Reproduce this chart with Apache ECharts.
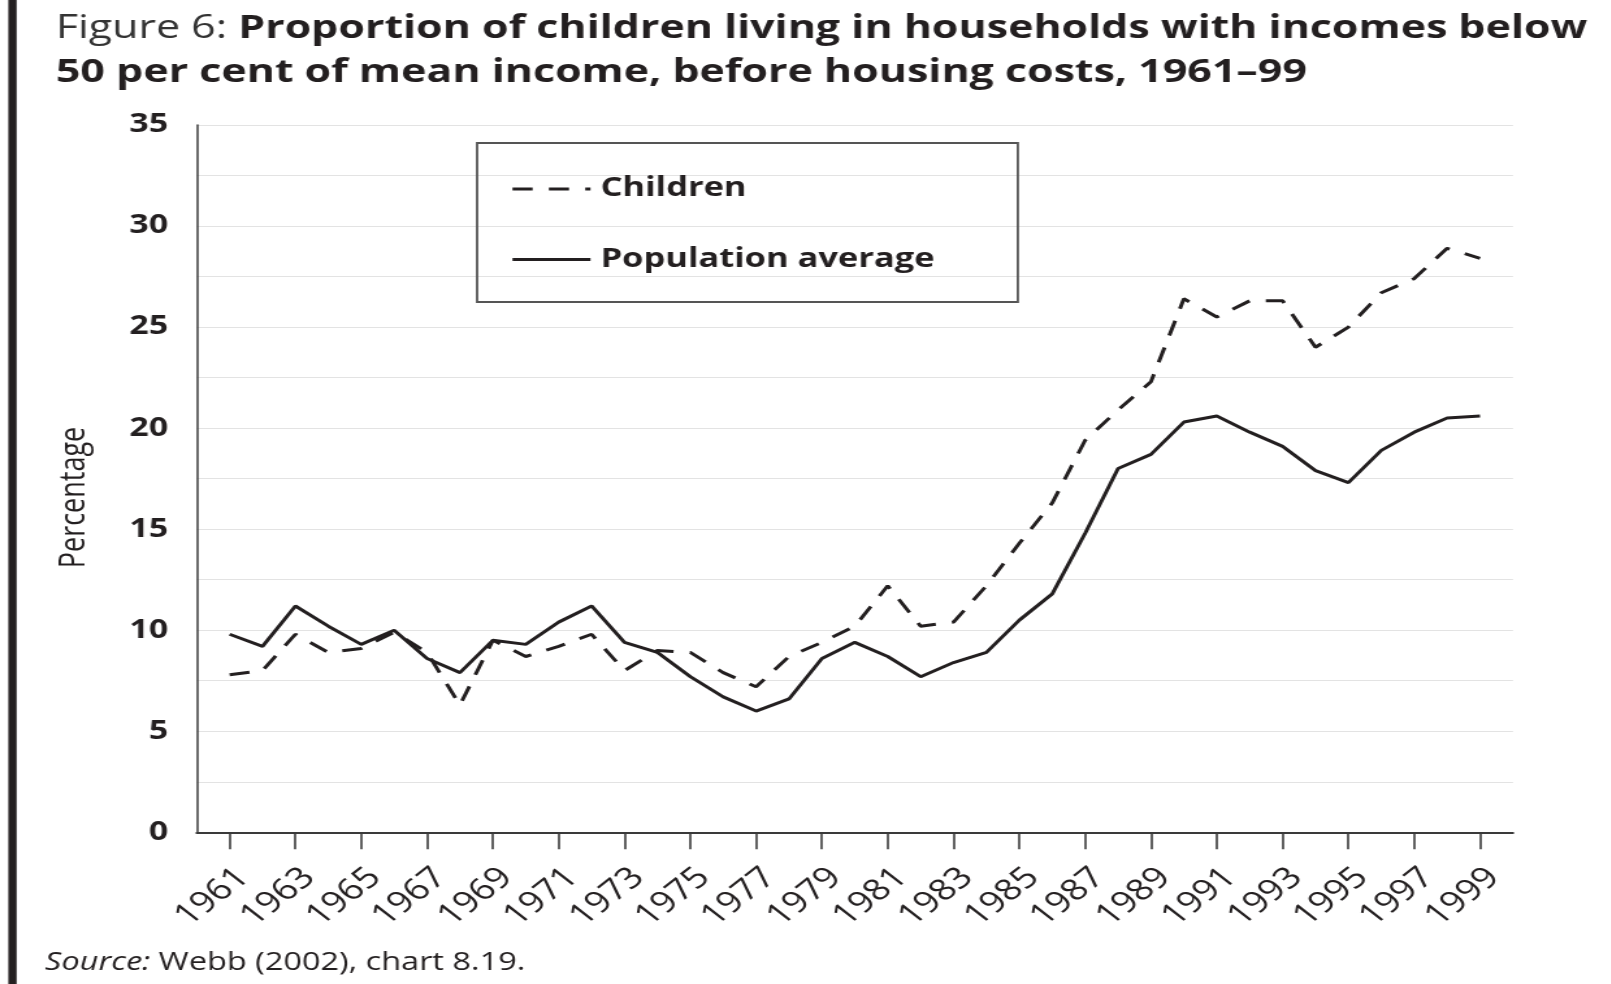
<!DOCTYPE html>
<html>
<head>
<meta charset="utf-8">
<title>Figure 6</title>
<script src="https://cdn.jsdelivr.net/npm/echarts@6/dist/echarts.min.js"></script>
<style>
  html, body { margin: 0; padding: 0; background: #fff; overflow: hidden; }
  /* the source figure is stretched sideways, so draw narrow and widen */
  #main { width: 1239px; height: 984px; transform: scaleX(1.3); transform-origin: 0 0; }
</style>
</head>
<body>
<div id="main"></div>
<script>
// years on the axis, 1960 and 2000 are only the ends of the axis
const years = []
for (let y = 1960; y <= 2000; y++) years.push(String(y))

// percentage of children below 50% of mean income, 1961-99
const children = [null,
  7.8, 8.0, 9.8, 8.9, 9.1, 9.9, 8.9, 6.3, 9.5, 8.7,
  9.2, 9.8, 8.0, 9.0, 8.9, 7.9, 7.2, 8.7, 9.4, 10.2,
  12.2, 10.2, 10.4, 12.2, 14.3, 16.3, 19.4, 20.9, 22.3, 26.4,
  25.5, 26.3, 26.3, 24.0, 25.0, 26.7, 27.4, 28.9, 28.4,
  null]

// whole population, 1961-99
const population = [null,
  9.8, 9.2, 11.2, 10.2, 9.3, 10.0, 8.6, 7.9, 9.5, 9.3,
  10.4, 11.2, 9.4, 8.9, 7.7, 6.7, 6.0, 6.6, 8.6, 9.4,
  8.7, 7.7, 8.4, 8.9, 10.5, 11.8, 14.8, 18.0, 18.7, 20.3,
  20.6, 19.8, 19.1, 17.9, 17.3, 18.9, 19.8, 20.5, 20.6,
  null]

const font = 'Open Sans'
const ink = '#231f20'

const chart = echarts.init(document.getElementById('main'))

/** only odd years get a tick and a label */
const oddYear = (i, v) => Number(v) % 2 === 1

const option = {
  animation: false,
  title: [
    {
      left: 43,
      top: 6,
      padding: 0,
      text: '{a|Figure 6: }{b|Proportion of children living in households with incomes below}\n{b|50 per cent of mean income, before housing costs, 1961–99}',
      textStyle: {
        rich: {
          a: { fontFamily: font, fontSize: 33, fontWeight: 'normal', color: '#333', lineHeight: 44.5 },
          b: { fontFamily: font, fontSize: 33, fontWeight: 'bold', color: ink, lineHeight: 44.5 },
        },
      },
    },
    {
      left: 34.6,
      top: 947.7,
      padding: 0,
      text: '{i|Source:}{r| Webb (2002), chart 8.19.}',
      textStyle: {
        rich: {
          i: { fontFamily: font, fontSize: 25, fontWeight: 'normal', fontStyle: 'italic', color: ink, lineHeight: 30 },
          r: { fontFamily: font, fontSize: 25, fontWeight: 'normal', color: ink, lineHeight: 30 },
        },
      },
    },
  ],
  graphic: [
    // black bar down the left edge
    { type: 'rect', shape: { x: 6.4, y: 0, width: 6.4, height: 984 }, style: { fill: ink } },
    {
      type: 'text',
      x: 57.5,
      y: 497.5,
      rotation: Math.PI / 2,
      style: {
        text: 'Percentage',
        fontFamily: font,
        fontSize: 27,
        fill: ink,
        align: 'center',
        verticalAlign: 'middle',
      },
    },
  ],
  legend: {
    orient: 'vertical',
    left: 367,
    top: 143,
    data: ['Children', 'Population average'],
    itemWidth: 60,
    itemHeight: 30,
    itemGap: 43.5,
    padding: [32.4, 64, 29.1, 25.7],
    borderColor: '#555',
    borderWidth: 1.8,
    // hide the marker circle, keep only the line
    itemStyle: { opacity: 0 },
    lineStyle: { width: 3 },
    textStyle: {
      fontFamily: font,
      fontSize: 26.5,
      fontWeight: 'bold',
      color: ink,
      padding: [0, 0, 0, 2.7],
    },
  },
  grid: {
    left: 151.3,
    right: 75.2,
    top: 125,
    bottom: 151.7,
  },
  xAxis: {
    type: 'category',
    data: years,
    boundaryGap: false,
    axisLine: { lineStyle: { color: '#3a3a3a', width: 2 } },
    axisTick: {
      show: true,
      interval: oddYear,
      length: 17,
      lineStyle: { color: '#3a3a3a', width: 1.6 },
    },
    axisLabel: {
      interval: oddYear,
      rotate: 45,
      margin: 30,
      verticalAlign: 'top',
      fontFamily: font,
      fontSize: 29.5,
      color: ink,
    },
    splitLine: { show: false },
  },
  yAxis: {
    type: 'value',
    min: 0,
    max: 35,
    interval: 2.5,
    axisLine: { show: true, lineStyle: { color: '#444', width: 1.6 } },
    axisTick: { show: false },
    axisLabel: {
      margin: 22,
      fontFamily: font,
      fontSize: 26,
      fontWeight: 'bold',
      color: ink,
      formatter: (v) => (v % 5 === 0 ? String(v) : ''),
    },
    splitLine: { lineStyle: { color: '#e3e3e3', width: 1.2 } },
  },
  series: [
    {
      name: 'Children',
      type: 'line',
      data: children,
      symbol: 'none',
      showSymbol: false,
      lineStyle: { color: ink, width: 3, type: [15.5, 12.5] },
      itemStyle: { color: ink },
    },
    {
      name: 'Population average',
      type: 'line',
      data: population,
      symbol: 'none',
      showSymbol: false,
      lineStyle: { color: ink, width: 3 },
      itemStyle: { color: ink },
    },
  ],
}

chart.setOption(option)
</script>
</body>
</html>
